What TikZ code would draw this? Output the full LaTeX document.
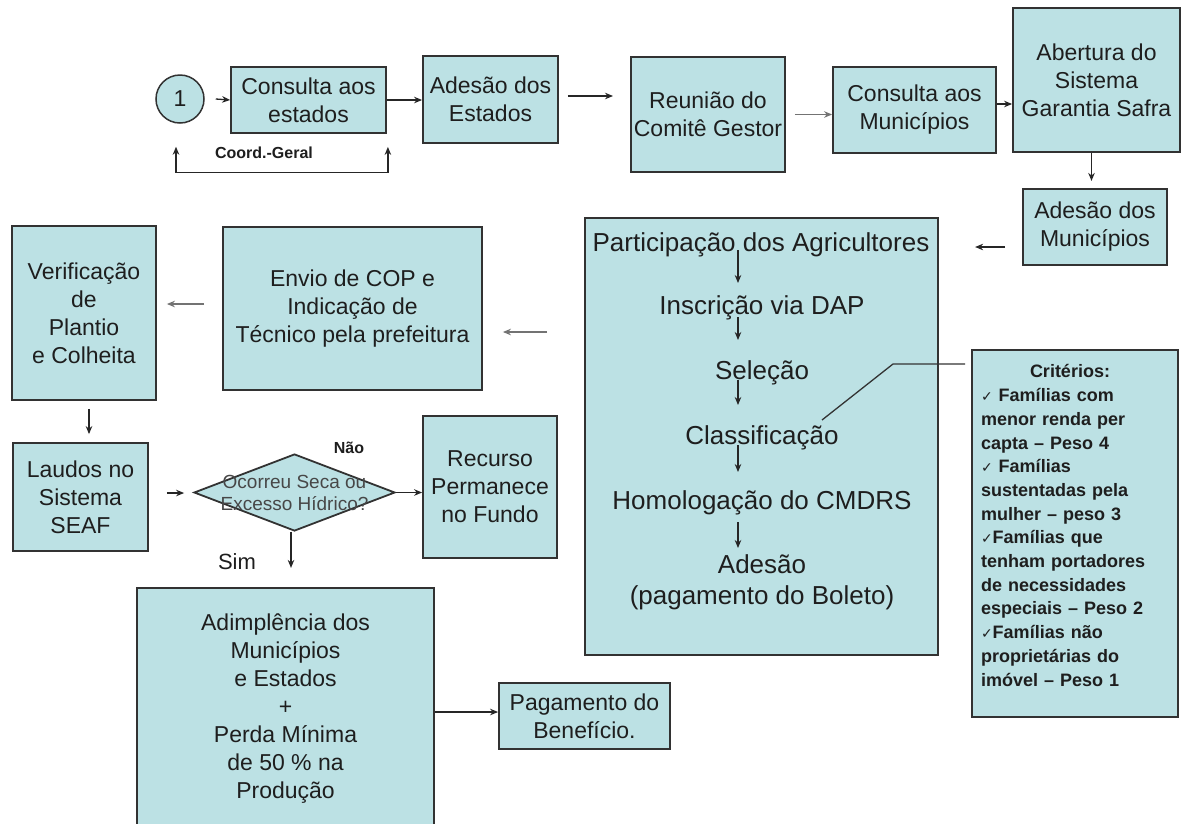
\documentclass[tikz,border=0pt]{standalone}
\usepackage{fontspec}
\setmainfont{Liberation Sans}
\newfontfamily\chkfont{DejaVu Sans}
\usetikzlibrary{shapes.geometric,arrows.meta,calc}
\definecolor{boxcol}{RGB}{188,225,228}
\definecolor{edgecol}{RGB}{50,50,50}
\definecolor{txtcol}{RGB}{30,30,30}
\newcommand\ckm{{\chkfont\fontsize{14}{14}\selectfont ✓}}
\begin{document}
\begin{tikzpicture}[x=1pt,y=-1pt,
 box/.style={draw=edgecol,line width=1.8pt,fill=boxcol,align=center,inner sep=0pt,text=txtcol,font=\fontsize{23}{28}\selectfont},
 arr/.style={line width=1.3pt,draw=black!85,-{Stealth[length=8pt,width=6.5pt]}},
 biarr/.style={line width=1.3pt,draw=black!85,{Stealth[length=8pt,width=6.5pt]}-{Stealth[length=8pt,width=6.5pt]}},
 inner/.style={text=txtcol,font=\fontsize{26}{31}\selectfont,inner sep=0pt,align=center},
 lbl/.style={text=txtcol,inner sep=0pt},
 diatext/.style={text=black!72,font=\fontsize{19}{22}\selectfont,align=center,inner sep=0pt}]
\useasboundingbox (0,0) rectangle (1181,823);
\fill[white] (0,0) rectangle (1181,823);
\clip (0,0) rectangle (1181,823);

% top row
\node[box,circle,line width=1.5pt,minimum size=48pt] (c1) at (180,99) {1};
\node[box,minimum width=155pt,minimum height=66pt] (cons) at (308.5,100) {Consulta aos\\estados};
\node[box,minimum width=135pt,minimum height=87pt] (adE) at (490.5,99.5) {Adesão dos\\Estados};
\node[box,minimum width=154pt,minimum height=115pt] (reu) at (708,114.5) {Reunião do\\Comitê Gestor};
\node[box,minimum width=163pt,minimum height=86pt] (cmun) at (914.5,110) {Consulta aos\\Municípios};
\node[box,minimum width=167pt,minimum height=144pt] (abe) at (1096.5,80) {Abertura do\\Sistema\\Garantia Safra};
\node[box,minimum width=144pt,minimum height=76pt] (amun) at (1095,227) {Adesão dos\\Municípios};

% big box
\node[box,minimum width=353pt,minimum height=437pt] (big) at (761.5,436.5) {};
\node[inner] (p1) at (761,245) {Participação dos Agricultores};
\node[inner] (p2) at (762,308) {Inscrição via DAP};
\node[inner] (p3) at (762,373) {Seleção};
\node[inner] (p4) at (762,438) {Classificação};
\node[inner] (p5) at (762,503) {Homologação do CMDRS};
\node[inner] (p6) at (762,582) {Adesão\\(pagamento do Boleto)};

% criteria
\node[box,minimum width=206pt,minimum height=367pt,font=\bfseries\fontsize{18}{23.7}\selectfont,align=left,text width=188pt] (crit) at (1075,533.5)
 {\makebox[178pt]{Critérios:}\\\ckm\ Famílias com\\menor renda per\\capta – Peso 4\\\ckm\ Famílias\\sustentadas pela\\mulher – peso 3\\\ckm Famílias que\\tenham portadores\\de necessidades\\especiais – Peso 2\\\ckm Famílias não\\proprietárias do\\imóvel – Peso 1\par\vspace{16pt}};

% left side
\node[box,minimum width=259pt,minimum height=163pt] (envio) at (352.5,308.5) {Envio de COP e\\Indicação de\\Técnico pela prefeitura};
\node[box,minimum width=144pt,minimum height=174pt] (verif) at (84,313) {Verificação\\de\\Plantio\\e Colheita};
\node[box,minimum width=135pt,minimum height=108pt] (laudos) at (80.5,497) {Laudos no\\Sistema\\SEAF};
\node[draw=edgecol,line width=1.8pt,fill=boxcol,diamond,minimum width=201pt,minimum height=77pt,inner sep=0pt,
 label={[diatext]center:{Ocorreu Seca ou\\Excesso Hídrico?}}] (dia) at (294.5,492.5) {};
\node[box,minimum width=134pt,minimum height=142pt] (rec) at (490,487) {Recurso\\Permanece\\no Fundo};
\node[box,minimum width=297pt,minimum height=242pt] (adim) at (285.5,709) {Adimplência dos\\Municípios\\e Estados\\+\\Perda Mínima\\de 50 \% na\\Produção};
\node[box,minimum width=171pt,minimum height=66pt] (pag) at (584.5,716) {Pagamento do\\Benefício.};

% labels
\node[lbl,font=\bfseries\fontsize{16}{16}\selectfont] (coord) at (264,153) {Coord.-Geral};
\node[lbl,font=\bfseries\fontsize{16}{16}\selectfont] (nao) at (349,448) {Não};
\node[lbl,font=\fontsize{22}{22}\selectfont] (sim) at (237,562) {Sim};

% connectors top
\draw[arr] ($(c1.east)+(11,0)$) -- (cons.west);
\draw[arr] (cons.east) -- (cons.east -| adE.west);
\coordinate (reuin) at (613,96);
\draw[arr] ($(adE.east)+(9,-3.5)$) -- (reuin);
\draw[arr,draw=black!55] ($(reu.east)+(9,0)$) -- (reu.east -| cmun.west);
\draw[arr] ($(cmun.east)+(0,-6)$) -- ($(cmun.east -| abe.west)+(0,-6)$);
\draw[arr] ($(abe.south)+(-5,0)$) -- ($(abe.south)+(-5,28)$);
\draw[arr] ($(amun.west)+(-17,20)$) -- ($(amun.west)+(-47,20)$);
\draw[biarr] ($(c1.south)+(-4,23)$) -- ($(c1.south)+(-4,49)$) -| ($(cons.south east)+(1,13)$);

% inner arrows
\draw[arr] ($(p1.center)+(-23,5)$) -- ($(p2.center)+(-24,-25)$);
\draw[arr] ($(p2.center)+(-24,9)$) -- ($(p3.center)+(-24,-33)$);
\draw[arr] ($(p3.center)+(-24,7)$) -- ($(p4.center)+(-24,-33)$);
\draw[arr] ($(p4.center)+(-24,7)$) -- ($(p5.center)+(-24,-31)$);
\draw[arr] ($(p5.center)+(-24,19)$) -- ($(p6.center)+(-24,-34)$);

% criteria connector
\coordinate (critend) at (965,364);
\draw[line width=1.3pt,draw=black!80] ($(p4.center)+(60,-18)$) -- ($(p4.center)+(131,-74)$) -- (critend);

% left side connectors
\draw[arr,draw=black!55] ($(big.west)+(-37,-104.5)$) -- ($(envio.east)+(20,23.5)$);
\draw[arr,draw=black!55] ($(envio.west)+(-18,-4.5)$) -- ($(verif.east)+(10,-9)$);
\draw[arr] ($(verif.south)+(5,8)$) -- ($(laudos.north)+(8.5,-8)$);
\draw[arr] ($(laudos.east)+(18,-4)$) -- ($(dia.west)+(-9,0.5)$);
\draw[arr] (dia.east) -- (dia.east -| rec.west);
\draw[arr] ($(dia.south)+(-3.5,0)$) -- ($(dia.south)+(-3.5,36)$);
\draw[arr] ($(adim.east)+(0,3)$) -- ($(adim.east -| pag.west)+(0,3)$);
\end{tikzpicture}
\end{document}
